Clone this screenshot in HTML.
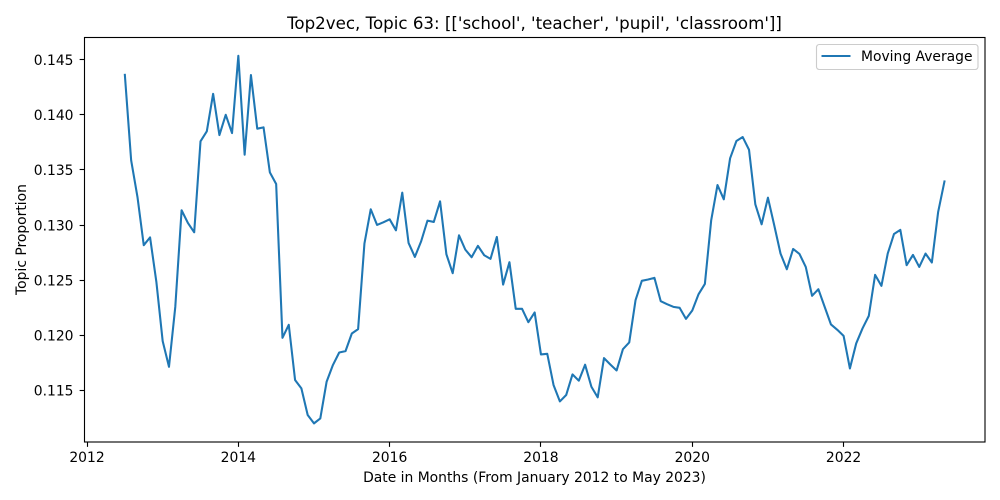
<!DOCTYPE html>
<html lang="en">
<head>
<meta charset="utf-8">
<title>Top2vec, Topic 63</title>
<style>
html,body{margin:0;padding:0;background:#fff;width:1000px;height:500px;overflow:hidden}
svg{display:block}
text{font-family:"DejaVu Sans","Liberation Sans",sans-serif;fill:#000}
</style>
</head>
<body>
<svg id="chart" xmlns="http://www.w3.org/2000/svg" width="1000" height="500" viewBox="0 0 1000 500">
  <rect x="0" y="0" width="1000" height="500" fill="#ffffff"/>
  <g id="ticks-x"></g>
  <g id="ticks-y"></g>
  <path id="series" fill="none" stroke="#1f77b4" stroke-width="2.08" stroke-linejoin="round" stroke-linecap="square"/>
  <rect x="84.5" y="37.5" width="900.5" height="404.5" fill="none" stroke="#000" stroke-width="1.11"/>
  <text x="534.5" y="29" font-size="16.67" text-anchor="middle">Top2vec, Topic 63: [['school', 'teacher', 'pupil', 'classroom']]</text>
  <text x="534.5" y="482" font-size="13.89" text-anchor="middle">Date in Months (From January 2012 to May 2023)</text>
  <text transform="translate(26 239.5) rotate(-90)" font-size="13.89" text-anchor="middle">Topic Proportion</text>
  <g>
    <rect x="816.5" y="44.5" width="161.5" height="25" rx="2.8" ry="2.8" fill="#fff" fill-opacity="0.8" stroke="#cccccc" stroke-width="1.11"/>
    <line x1="821.5" y1="56" x2="850.5" y2="56" stroke="#1f77b4" stroke-width="2.08"/>
    <text x="861" y="61" font-size="13.89">Moving Average</text>
  </g>
</svg>
<script>
const dates = [
"2012-07","2012-08","2012-09","2012-10","2012-11","2012-12",
"2013-01","2013-02","2013-03","2013-04","2013-05","2013-06","2013-07","2013-08","2013-09","2013-10","2013-11","2013-12",
"2014-01","2014-02","2014-03","2014-04","2014-05","2014-06","2014-07","2014-08","2014-09","2014-10","2014-11","2014-12",
"2015-01","2015-02","2015-03","2015-04","2015-05","2015-06","2015-07","2015-08","2015-09","2015-10","2015-11","2015-12",
"2016-01","2016-02","2016-03","2016-04","2016-05","2016-06","2016-07","2016-08","2016-09","2016-10","2016-11","2016-12",
"2017-01","2017-02","2017-03","2017-04","2017-05","2017-06","2017-07","2017-08","2017-09","2017-10","2017-11","2017-12",
"2018-01","2018-02","2018-03","2018-04","2018-05","2018-06","2018-07","2018-08","2018-09","2018-10","2018-11","2018-12",
"2019-01","2019-02","2019-03","2019-04","2019-05","2019-06","2019-07","2019-08","2019-09","2019-10","2019-11","2019-12",
"2020-01","2020-02","2020-03","2020-04","2020-05","2020-06","2020-07","2020-08","2020-09","2020-10","2020-11","2020-12",
"2021-01","2021-02","2021-03","2021-04","2021-05","2021-06","2021-07","2021-08","2021-09","2021-10","2021-11","2021-12",
"2022-01","2022-02","2022-03","2022-04","2022-05","2022-06","2022-07","2022-08","2022-09","2022-10","2022-11","2022-12",
"2023-01","2023-02","2023-03","2023-04","2023-05"
];
const movingAverage = [
.14362,.13587,.13255,.12817,.12888,.12484,
.11947,.11714,.12258,.13134,.13019,.12934,.13759,.1385,.1419,.13816,.14,.13834,
.14535,.13638,.1436,.13874,.13886,.13478,.13372,.11977,.12095,.11594,.11518,.11277,
.11201,.11246,.11578,.1173,.11844,.11856,.12016,.12056,.12832,.13143,.13001,.13025,
.13052,.12952,.13294,.12838,.12711,.12853,.1304,.13028,.13215,.12735,.12563,.12907,
.12777,.12708,.12811,.12726,.12693,.12892,.1246,.12663,.1224,.1224,.12119,.12207,
.11826,.11832,.11548,.114,.11458,.11645,.11588,.11733,.11533,.11437,.11793,.11735,
.11681,.11874,.11935,.12318,.12494,.12506,.12521,.12309,.12282,.12258,.12249,.12149,
.12225,.12373,.12466,.13043,.13363,.13233,.13605,.13762,.13798,.13683,.13188,.13007,
.13248,.12998,.12741,.12599,.12783,.12738,.1262,.12358,.12418,.12258,.12098,.1205,
.11995,.11699,.11926,.12062,.12176,.12548,.12448,.12741,.12919,.12956,.12636,.12729,
.1262,.12741,.1266,.13119,.13395
];
const xTickYears = [2012, 2014, 2016, 2018, 2020, 2022];
const yTickValues = [0.115, 0.120, 0.125, 0.130, 0.135, 0.140, 0.145];

const plot = {left: 84.5, right: 985, top: 37.5, bottom: 442};
const monthDomain = [-0.4, 142.43];
const valueDomain = [0.11032, 0.14701];
const NS = 'http://www.w3.org/2000/svg';

function monthsSince2012(s) {
  const p = s.split('-');
  return (Number(p[0]) - 2012) * 12 + Number(p[1]) - 1;
}
function xScale(m) {
  return plot.left + (m - monthDomain[0]) / (monthDomain[1] - monthDomain[0]) * (plot.right - plot.left);
}
function yScale(v) {
  return plot.bottom - (v - valueDomain[0]) / (valueDomain[1] - valueDomain[0]) * (plot.bottom - plot.top);
}
function snap(p) {
  return Math.floor(p) + 0.5;
}
function svgEl(tag, attrs) {
  const el = document.createElementNS(NS, tag);
  for (const k in attrs) el.setAttribute(k, attrs[k]);
  return el;
}

const xGroup = document.getElementById('ticks-x');
xTickYears.forEach(function (year) {
  const x = xScale((year - 2012) * 12);
  const tick = svgEl('line', {x1: snap(x), x2: snap(x), y1: plot.bottom, y2: plot.bottom + 4.86, stroke: '#000', 'stroke-width': 1.11});
  
  
  xGroup.appendChild(tick);
  const label = svgEl('text', {x: x, y: 462, 'font-size': 13.89, 'text-anchor': 'middle'});
  
  
  label.textContent = String(year);
  xGroup.appendChild(label);
});

const yGroup = document.getElementById('ticks-y');
yTickValues.forEach(function (value) {
  const y = yScale(value);
  const tick = svgEl('line', {x1: plot.left - 4.86, x2: plot.left, y1: snap(y), y2: snap(y), stroke: '#000', 'stroke-width': 1.11});
  
  
  yGroup.appendChild(tick);
  const label = svgEl('text', {x: 73.5, y: y + 5.3, 'font-size': 13.89, 'text-anchor': 'end'});
  
  
  label.textContent = value.toFixed(3);
  yGroup.appendChild(label);
});

const d = movingAverage.map(function (v, i) {
  return (i ? 'L' : 'M') + xScale(monthsSince2012(dates[i])).toFixed(2) + ' ' + yScale(v).toFixed(2);
}).join(' ');
document.getElementById('series').setAttribute('d', d);
</script>
</body>
</html>
